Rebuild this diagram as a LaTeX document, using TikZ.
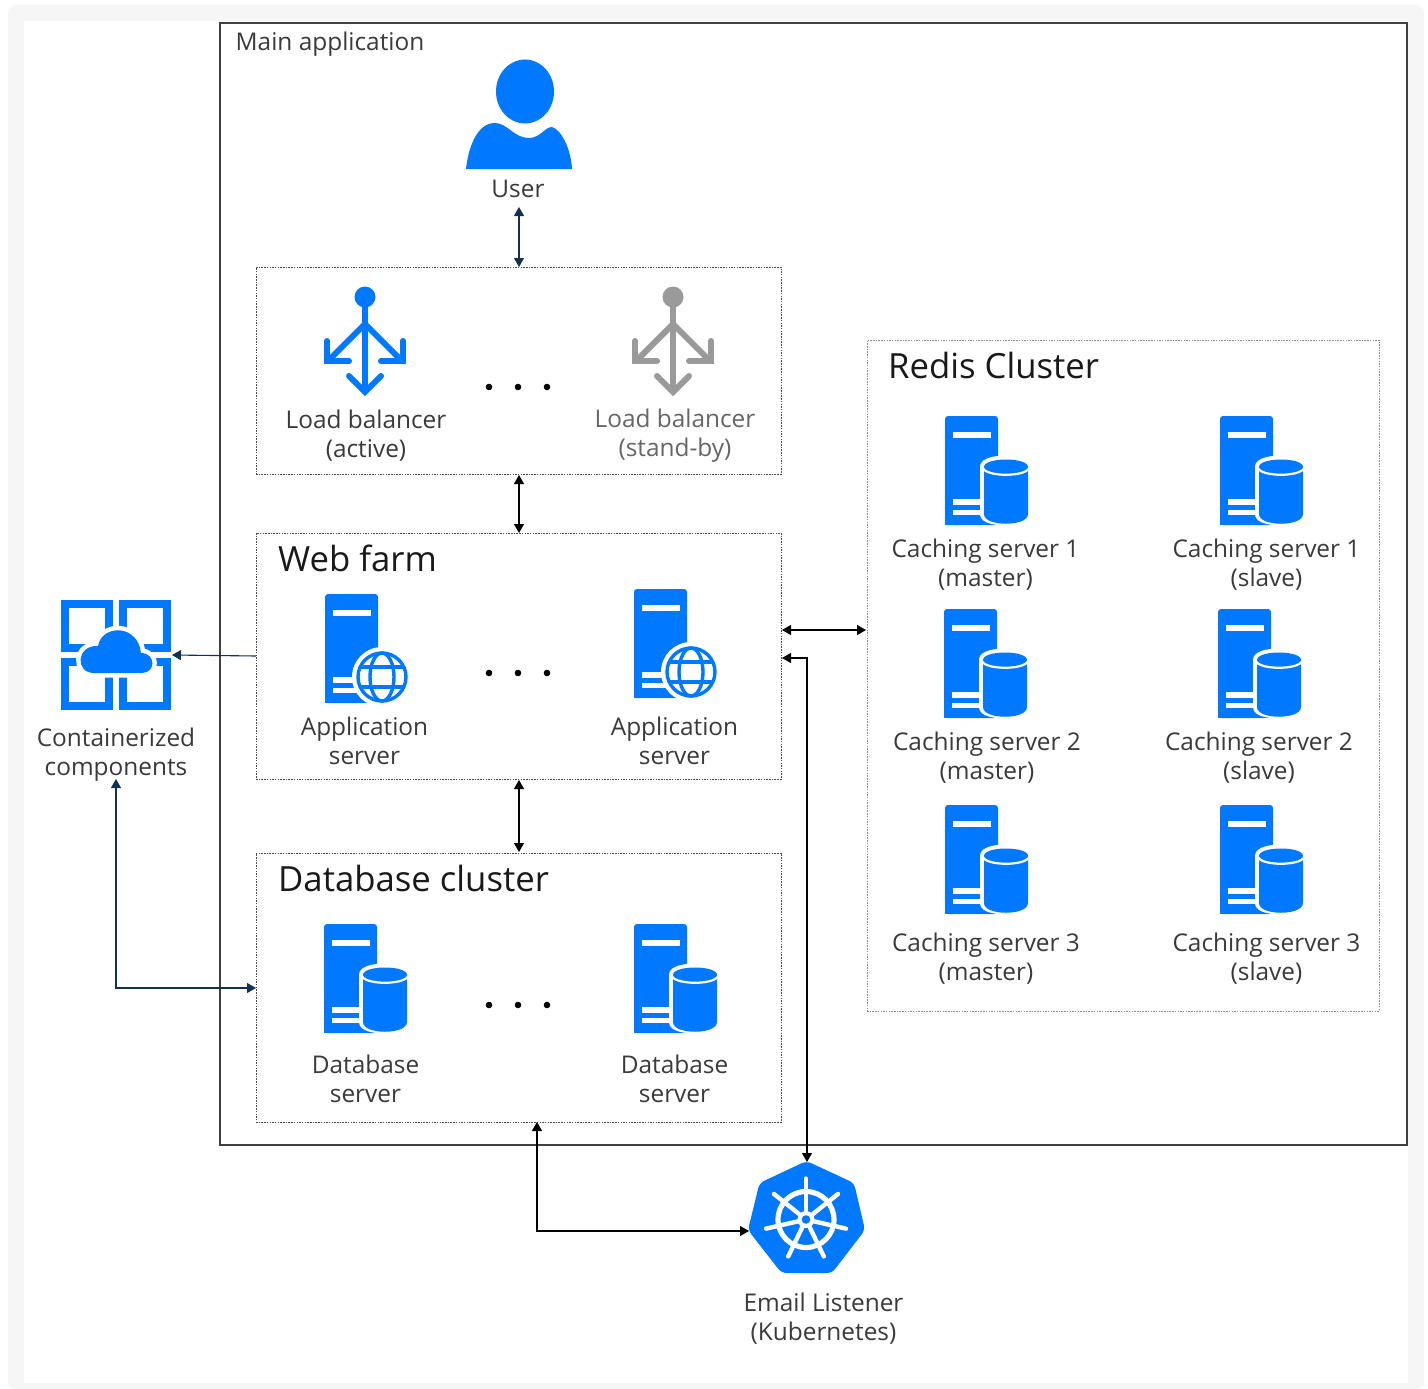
\documentclass[tikz,border=0pt]{standalone}
\usepackage{fontspec}
\setmainfont{Open Sans}
\usetikzlibrary{arrows.meta}
\definecolor{azblue}{HTML}{0078FF}
\definecolor{lbgrey}{HTML}{9A9A9A}
\definecolor{navy}{HTML}{12324F}
\definecolor{txt}{HTML}{3A3A3A}
\newcommand{\lblfont}{\fontsize{24.4pt}{29pt}\selectfont}
\newcommand{\bigfont}{\fontsize{34.7pt}{40pt}\selectfont}
\tikzset{
  x=1pt,y=-1pt,
  mainbox/.style={draw=black!75,line width=1.1pt,inner sep=0pt,outer sep=0pt},
  dotbox/.style={draw=black!70,line width=0.9pt,dash pattern=on 1.5pt off 1.2pt,inner sep=0pt,outer sep=0pt},
  redisbox/.style={draw=black!45,line width=0.9pt,dash pattern=on 1.5pt off 1.2pt,inner sep=0pt,outer sep=0pt},
  lbl/.style={text=txt,font=\lblfont,align=center,inner sep=0pt},
  lblgrey/.style={lbl,text=black!60},
  title/.style={text=black!90,font=\bigfont,anchor=west,inner sep=0pt},
  biarrow/.style={line width=1.1pt,{Triangle[length=9pt,width=10pt]}-{Triangle[length=9pt,width=10pt]}},
  bianavy/.style={biarrow,navy},
  onearrow/.style={line width=1.1pt,-{Triangle[length=9pt,width=10pt]},navy},
  pics/srvbody/.style={code={
    \fill[azblue,rounded corners=3pt] (0,0) -- (53,0) -- (53,109) -- (0,109) -- cycle;
    \fill[azblue] (0,100) rectangle (8,109);
    \fill[white] (8,15.5) rectangle (46,21.5);
    \fill[white] (8,83) rectangle (36,88.5);
    \fill[white] (8,93.5) rectangle (36,98.5);
  }},
  pics/dbsrv/.style={code={
    \pic {srvbody};
    \path[fill=white,draw=white,line width=8pt] (39,51) .. controls (39,41) and (83,41) .. (83,51) -- (83,98) .. controls (83,108) and (39,108) .. (39,98) -- cycle;
    \fill[azblue] (39,51) .. controls (39,41) and (83,41) .. (83,51) -- (83,98) .. controls (83,111) and (39,111) .. (39,98) -- cycle;
    \draw[white,line width=2.2pt] (38,52) .. controls (41,61) and (81,61) .. (84,52);
  }},
  pics/websrv/.style={code={
    \pic {srvbody};
    \fill[white] (57,83) circle[radius=30pt];
    \begin{scope}[azblue,line width=3.4pt]
      \draw (57,83) circle[radius=24pt];
      \draw (57,83) ellipse[x radius=12pt,y radius=24pt];
      \draw (35,73) -- (79,73);
      \draw (35,93) -- (79,93);
    \end{scope}
  }},
  pics/lbicon/.style={code={
    \fill[#1] (0,0) circle[radius=10.5pt];
    \begin{scope}[draw=#1,line width=6pt,line cap=round,line join=miter]
      \draw (0,0) -- (0,94);
      \draw (-16,79) -- (0,95) -- (16,79);
      \draw (0,27) -- (-36,63);
      \draw (0,27) -- (36,63);
      \draw (-38,44) -- (-38,64) -- (-16,64);
      \draw (38,44) -- (38,64) -- (16,64);
    \end{scope}
  }},
}
\begin{document}
\begin{tikzpicture}
\useasboundingbox (0,0) rectangle (1428,1389);
\fill[white] (0,0) rectangle (1428,1389);
\fill[black!3.5,rounded corners=8pt] (8,5) rectangle (1424,1389);
\fill[white] (24,21) rectangle (1408,1383);

% boxes
\node[mainbox,minimum width=1187pt,minimum height=1122pt] (main) at (813.5,584) {};
\node[dotbox,minimum width=525pt,minimum height=207pt] (lb) at (518.5,370.5) {};
\node[dotbox,minimum width=525pt,minimum height=246pt] (web) at (518.5,656) {};
\node[dotbox,minimum width=525pt,minimum height=269pt] (db) at (518.5,987.5) {};
\node[redisbox,minimum width=512pt,minimum height=671pt] (redis) at (1123,675.5) {};

\node[lbl,anchor=west] (maintitle) at (235.5,44) {Main application};
\node[title] (redistitle) at (888,365) {Redis Cluster};
\node[title] (webtitle) at (278,558) {Web farm};
\node[title] (dbtitle) at (278,878) {Database cluster};

% user
\fill[azblue] (525,91.5) ellipse[x radius=29pt,y radius=32pt];
\fill[azblue] (466,169) .. controls (468,150) and (476,123) .. (495,123) .. controls (507,123) and (514,138) .. (529,138) .. controls (540,138) and (545,127) .. (552,127) .. controls (562,130) and (571,150) .. (572,169) -- cycle;
\node[lbl] (user) at (518,189) {User};

% load balancers
\pic at (365,297) {lbicon=azblue};
\pic at (673,297) {lbicon=lbgrey};
\node[lbl] (lba) at (366,435.5) {Load balancer\\(active)};
\node[lblgrey] (lbs) at (675,435.5) {Load balancer\\(stand-by)};

% dots
\foreach \yy/\nn in {387/a,673/b,1005/c}{
  \foreach \xx/\mm in {489/1,518/2,547/3}{
    \fill[black] (\xx,\yy) circle[radius=3.3pt];
  }
}

% web farm
\pic at (325,594) {websrv};
\pic at (634,589) {websrv};
\node[lbl] (app1) at (364.5,741) {Application\\server};
\node[lbl] (app2) at (674.5,741) {Application\\server};

% database
\pic at (324,924) {dbsrv};
\pic at (634,924) {dbsrv};
\node[lbl] (db1) at (365.5,1079) {Database\\server};
\node[lbl] (db2) at (674.5,1079) {Database\\server};

% redis
\pic at (945,416) {dbsrv};
\pic at (1220,416) {dbsrv};
\pic at (944,609) {dbsrv};
\pic at (1218,609) {dbsrv};
\pic at (945,805) {dbsrv};
\pic at (1220,805) {dbsrv};
\node[lbl] (c1m) at (985.5,564.5) {Caching server 1\\(master)};
\node[lbl] (c1s) at (1266.5,564.5) {Caching server 1\\(slave)};
\node[lbl] (c2m) at (987,757.5) {Caching server 2\\(master)};
\node[lbl] (c2s) at (1259,757.5) {Caching server 2\\(slave)};
\node[lbl] (c3m) at (986,958.5) {Caching server 3\\(master)};
\node[lbl] (c3s) at (1266.5,958.5) {Caching server 3\\(slave)};

% container icon
\begin{scope}[draw=azblue,line width=8pt,line join=miter]
  \draw (64.7,604) rectangle (109.3,648);
  \draw (123,604) rectangle (167,648);
  \draw (64.7,662) rectangle (109.3,706);
  \draw (123,662) rectangle (167,706);
\end{scope}
\begin{scope}
  \path[fill=white,draw=white,line width=9pt,line join=round]
    (94,673) .. controls (75,673) and (76,645) .. (98,646) .. controls (102,624) and (138,624) .. (141,653) .. controls (156,653) and (156,673) .. (142,673) -- cycle;
  \fill[azblue]
    (94,673) .. controls (75,673) and (76,645) .. (98,646) .. controls (102,624) and (138,624) .. (141,653) .. controls (156,653) and (156,673) .. (142,673) -- cycle;
\end{scope}
\node[lbl] (cont) at (116,755) {Containerized\\components};

% kubernetes
\fill[azblue,rounded corners=5pt] (806.5,1161) -- (854,1183) -- (865,1230) -- (832,1273) -- (781.5,1273) -- (748,1230) -- (759.5,1183) -- cycle;
\coordinate (hub) at (806,1219.5);
\draw[white,line width=5.2pt] (hub) circle[radius=28pt];
\foreach \aa in {90,141.43,192.86,244.29,295.71,347.14,398.57}{
  \draw[white,line width=4.4pt,line cap=round] ([shift={(\aa:8pt)}]hub) -- ([shift={(\aa:41pt)}]hub);
}
\fill[white] (hub) circle[radius=8.5pt];
\fill[azblue] (hub) circle[radius=4.3pt];
\node[lbl] (email) at (823.5,1318.5) {Email Listener\\(Kubernetes)};

% connector ends
\coordinate (uend) at (519,207);
\coordinate (iconend) at (172,655);
\coordinate (contend) at (116,779);
\coordinate (dbleft) at (256,988);
\coordinate (webleft) at (256,656);
\coordinate (kleft) at (749,1231);
\coordinate (ktop) at (807,1162);
\coordinate (dbbot) at (537,1122);
\coordinate (webright) at (782,658);
\coordinate (wr2) at (782,630);
\coordinate (rl) at (866,630);

\draw[bianavy] (uend) -- (uend |- lb.north);
\draw[biarrow] (519,475) -- (519,533);
\draw[biarrow] (519,780) -- (519,852);
\draw[biarrow] (wr2) -- (rl);
\draw[onearrow] (webleft) -- (iconend);
\draw[bianavy] (contend) -- (contend |- dbleft) -- (dbleft);
\draw[biarrow] (dbbot) -- (dbbot |- kleft) -- (kleft);
\draw[biarrow] (webright) -- (ktop |- webright) -- (ktop);
\end{tikzpicture}
\end{document}
